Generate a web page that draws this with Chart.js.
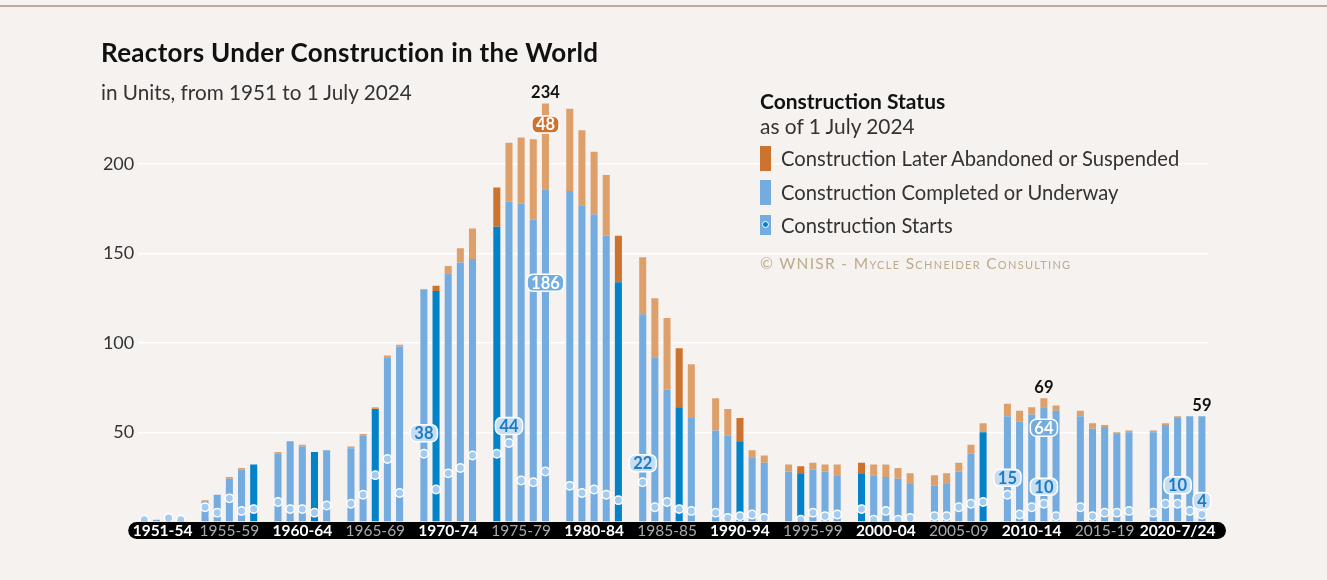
<!DOCTYPE html>
<html>
<head>
<meta charset="utf-8">
<script src="https://cdn.jsdelivr.net/npm/chart.js@4/dist/chart.umd.min.js"></script>
<style>
  html, body { margin:0; padding:0; background:#f6f2f0; }
  #wrap { position:relative; width:1327px; height:580px; overflow:hidden; background:#f6f2f0; font-family:Lato, "Open Sans", sans-serif; }
  #topline { position:absolute; left:0; top:5px; width:1327px; height:1.5px; background:#bcab95; }
  canvas { position:absolute; left:0; top:0; }
  .t { position:absolute; white-space:nowrap; line-height:1; color:#222; }
  .sw { position:absolute; width:11px; }
</style>
</head>
<body>
<div id="wrap">
  <div id="topline"></div>
  <canvas id="c" width="1327" height="580"></canvas>
  <div class="t" style="left:101px; top:39px; font-size:26px; letter-spacing:0.3px; font-weight:700; color:#111;">Reactors Under Construction in the World</div>
  <div class="t" style="left:101px; top:81.5px; font-size:20.7px; color:#333;">in Units, from 1951 to 1 July 2024</div>

  <div class="t" style="left:760px; top:89.5px; font-size:21px; font-weight:700; color:#111;">Construction Status</div>
  <div class="t" style="left:760px; top:116px; font-size:20.9px; color:#333;">as of 1 July 2024</div>
  <div class="sw" style="left:760px; top:146px; height:25px; background:#cd7330;"></div>
  <div class="t" style="left:781px; top:147.5px; font-size:20.2px; color:#333;">Construction Later Abandoned or Suspended</div>
  <div class="sw" style="left:760px; top:180px; height:25px; background:#74acdf;"></div>
  <div class="t" style="left:781px; top:181.5px; font-size:20.2px; color:#333;">Construction Completed or Underway</div>
  <div class="sw" style="left:760px; top:215px; height:20px; background:#74acdf;">
    <div style="position:absolute; left:2px; top:6px; width:5px; height:5px; border-radius:50%; background:#0282c8; border:1.5px solid #fff;"></div>
  </div>
  <div class="t" style="left:781px; top:214.5px; font-size:20.2px; color:#333;">Construction Starts</div>
  <div class="t" style="left:760px; top:256px; font-size:15.5px; color:#bcab8c; font-variant:small-caps; letter-spacing:1.3px;">© WNISR - Mycle Schneider Consulting</div>
</div>
<script>
// ---------- DATA ----------
const years = [1951,1952,1953,1954,
  1955,1956,1957,1958,1959, 1960,1961,1962,1963,1964, 1965,1966,1967,1968,1969,
  1970,1971,1972,1973,1974, 1975,1976,1977,1978,1979, 1980,1981,1982,1983,1984,
  1985,1986,1987,1988,1989, 1990,1991,1992,1993,1994, 1995,1996,1997,1998,1999,
  2000,2001,2002,2003,2004, 2005,2006,2007,2008,2009, 2010,2011,2012,2013,2014,
  2015,2016,2017,2018,2019, 2020,2021,2022,2023,2024];

// Construction Completed or Underway
const completed = [1,1,3,3,
  11,15,24,29,32, 38,45,42,39,40, 41,48,63,92,98,
  130,129,139,145,147, 165,179,178,169,186, 185,177,172,160,134,
  116,92,74,64,58, 51,48,45,36,33, 28,27,29,28,26,
  27,26,25,24,21, 20,21,28,38,50, 59,56,60,64,62,
  59,52,53,49,50, 50,54,58,59,59];

// Construction Later Abandoned or Suspended
const abandoned = [0,0,0,0,
  1,0,1,1,0, 1,0,1,0,0, 1,1,1,1,1,
  0,3,4,8,17, 22,33,37,45,48, 46,42,35,34,26,
  32,33,40,33,30, 18,15,13,4,4, 4,4,4,4,6,
  6,6,7,6,6, 6,6,5,5,5, 7,6,4,5,3,
  3,3,1,1,1, 1,1,1,0,0];

// Construction Starts
const starts = [1,null,2,1,
  8,5,13,6,7, 11,7,7,5,9, 10,15,26,35,16,
  38,18,27,30,37, 38,44,23,22,28, 20,16,18,15,12,
  22,8,11,7,6, 5,2,3,4,2, null,1,5,3,4,
  7,1,6,1,2, 3,3,8,10,11, 15,4,8,10,3,
  8,3,5,5,6, 5,10,10,6,4];

// Highlighted years (darker shades)
const darkBlueYears = [1959,1963,1967,1971,1975,1984,1988,1992,1996,2000,2009];
const darkOrangeYears = [1971,1975,1984,1988,1992,1996,2000];

// Period labels on the axis band
const groupLabels = ['1951-54','1955-59','1960-64','1965-69','1970-74','1975-79','1980-84','1985-85','1990-94','1995-99','2000-04','2005-09','2010-14','2015-19','2020-7/24'];
const groupFirst  = [1951,1955,1960,1965,1970,1975,1980,1985,1990,1995,2000,2005,2010,2015,2020];
const groupLast   = [1954,1959,1964,1969,1974,1979,1984,1989,1994,1999,2004,2009,2014,2019,2024];
const groupBold   = [true,false,true,false,true,false,true,false,true,false,true,false,true,false,true];

const yTicks = [50,100,150,200];

// Annotated values (text is taken from the data)
const annotations = [
  {year:1979, what:'total',    style:'plain',  dy:-11},
  {year:1979, what:'abandoned',style:'orange', dy:21},
  {year:1979, what:'completed',style:'blue',   dy:93.5},
  {year:2013, what:'total',    style:'plain',  dy:-11},
  {year:2013, what:'completed',style:'blue',   dy:20.5},
  {year:2024, what:'total',    style:'plain',  dy:-11},
  {year:1970, what:'starts',   style:'pale',   dy:-20.5},
  {year:1976, what:'starts',   style:'pale',   dy:-17},
  {year:1985, what:'starts',   style:'pale',   dy:-19},
  {year:2010, what:'starts',   style:'pale',   dy:-17},
  {year:2013, what:'starts',   style:'pale',   dy:-17},
  {year:2022, what:'starts',   style:'pale',   dy:-18.5},
  {year:2024, what:'starts',   style:'pale',   dy:-13.5}
];

// ---------- COLORS ----------
const C = {
  blue:'#74acdf', blueDark:'#0282c8', orange:'#dea06b', orangeDark:'#cd7330',
  point:'#a2cbef', pale:'#c6ddf2', paleText:'#1b7cc3'
};

// ---------- BUILD SLOTS (one empty slot between periods) ----------
const slotLabels = [], slotYear = [];
years.forEach((y, i) => {
  if (i > 0 && groupFirst.includes(y)) { slotLabels.push(''); slotYear.push(null); }
  slotLabels.push(String(y)); slotYear.push(y);
});
const idxOf = y => years.indexOf(y);
const slotIndexOfYear = y => slotYear.indexOf(y);
const toSlots = arr => slotYear.map(y => y === null ? null : arr[idxOf(y)]);

const blueColors = slotYear.map(y => darkBlueYears.includes(y) ? C.blueDark : C.blue);
const orangeColors = slotYear.map(y => darkOrangeYears.includes(y) ? C.orangeDark : C.orange);

const FONT = 'Lato, "Open Sans", sans-serif';

const overlay = {
  id:'overlay',
  beforeDatasetsDraw(chart) {
    const {ctx, chartArea:a} = chart;
    ctx.save();
    ctx.fillStyle = '#000';
    ctx.beginPath();
    ctx.roundRect(a.left - 10, a.bottom + 0.4, (a.right + 18) - (a.left - 10), 17, 8.5);
    ctx.fill();
    ctx.restore();
  },
  afterDraw(chart) {
    const {ctx, chartArea:a, scales:{x, y}} = chart;
    ctx.save();
    ctx.textAlign = 'center';
    ctx.textBaseline = 'middle';
    groupLabels.forEach((lab, g) => {
      const x0 = x.getPixelForValue(slotIndexOfYear(groupFirst[g]));
      const x1 = x.getPixelForValue(slotIndexOfYear(groupLast[g]));
      ctx.font = (groupBold[g] ? '700 15.5px ' : '400 15.5px ') + FONT;
      ctx.fillStyle = groupBold[g] ? '#ffffff' : '#a9a9a9';
      ctx.fillText(lab, (x0 + x1) / 2, a.bottom + 9.5);
    });
    annotations.forEach(an => {
      const i = idxOf(an.year);
      const total = completed[i] + abandoned[i];
      let val, top;
      if (an.what === 'total') { val = total; top = total; }
      else if (an.what === 'abandoned') { val = abandoned[i]; top = total; }
      else if (an.what === 'completed') { val = completed[i]; top = completed[i]; }
      else { val = starts[i]; top = starts[i]; }
      const px = x.getPixelForValue(slotIndexOfYear(an.year));
      const py = y.getPixelForValue(top) + an.dy;
      const txt = String(val);
      if (an.style === 'plain') {
        ctx.font = '700 16.5px ' + FONT;
        ctx.fillStyle = '#111';
        ctx.fillText(txt, px, py);
        return;
      }
      ctx.font = '700 16.5px ' + FONT;
      const tw = ctx.measureText(txt).width;
      const w = tw + 8, h = 17;
      const fill = an.style === 'orange' ? C.orangeDark : an.style === 'blue' ? C.blue : C.pale;
      const tc = an.style === 'pale' ? C.paleText : '#ffffff';
      ctx.beginPath();
      ctx.roundRect(px - w / 2, py - h / 2, w, h, 6);
      ctx.fillStyle = fill;
      ctx.fill();
      ctx.lineWidth = 1.5;
      ctx.strokeStyle = '#ffffff';
      ctx.stroke();
      ctx.fillStyle = tc;
      ctx.fillText(txt, px, py + 0.5);
    });
    ctx.restore();
  }
};

new Chart(document.getElementById('c'), {
  data: {
    labels: slotLabels,
    datasets: [
      { type:'bar', label:'Construction Completed or Underway', data: toSlots(completed),
        backgroundColor: blueColors, stack:'units', order:2, barPercentage:0.58, categoryPercentage:1 },
      { type:'bar', label:'Construction Later Abandoned or Suspended', data: toSlots(abandoned),
        backgroundColor: orangeColors, stack:'units', order:2, barPercentage:0.58, categoryPercentage:1 },
      { type:'line', label:'Construction Starts', data: toSlots(starts), stack:'starts', order:0,
        showLine:false, pointRadius:4.2, pointHoverRadius:4.2, pointBackgroundColor:C.point,
        pointBorderColor:'#ffffff', pointBorderWidth:1.5 }
    ]
  },
  options: {
    responsive:false,
    animation:false,
    events:[],
    layout:{ padding:{ top:74.9, bottom:58.4, left:0, right:119 } },
    plugins:{ legend:{display:false}, tooltip:{enabled:false}, title:{display:false} },
    scales:{
      x:{ type:'category', display:false, stacked:true, offset:true },
      y:{ stacked:true, min:0, max:250, z:1,
          afterFit(s){ s.width = 138.2; },
          afterBuildTicks(s){ s.ticks = yTicks.map(v => ({value:v})); },
          ticks:{ font:{ family:FONT, size:18 }, color:'#333', padding:4 },
          grid:{ color:'rgba(255,255,255,0.95)', lineWidth:1.5, drawTicks:false },
          border:{ display:false } }
    }
  },
  plugins:[overlay]
});
</script>
</body>
</html>
